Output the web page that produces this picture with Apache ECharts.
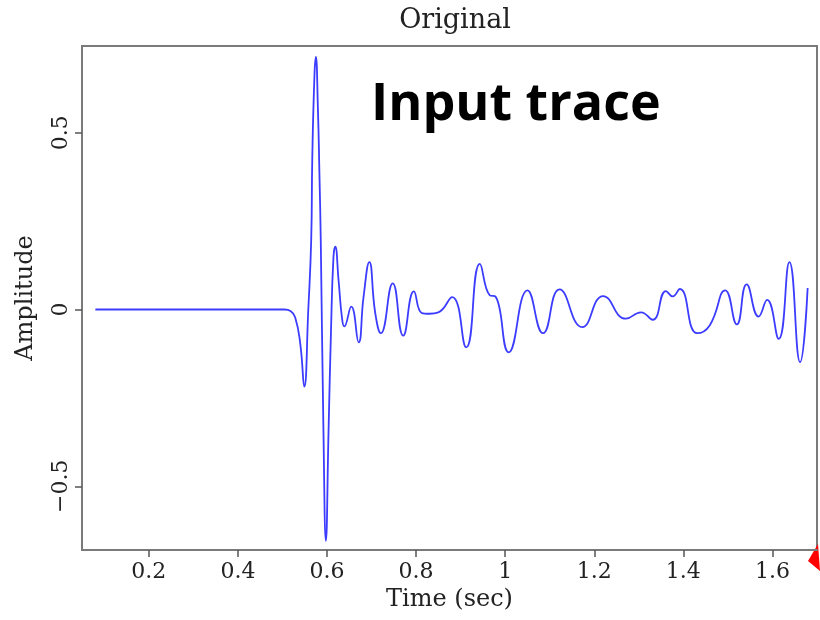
<!DOCTYPE html>
<html>
<head>
<meta charset="utf-8">
<script src="https://cdn.jsdelivr.net/npm/echarts@6/dist/echarts.min.js"></script>
<style>
  html, body { margin: 0; padding: 0; background: #fff; }
  #chart { width: 820px; height: 620px; }
</style>
</head>
<body>
<div id="chart"></div>
<script>
// Seismic trace: time samples (s) and amplitudes
const times = [
  0.08, 0.30, 0.505, 0.518, 0.5285, 0.540, 0.549, 0.558, 0.5645, 0.567,
  0.572, 0.575, 0.5795, 0.583, 0.586, 0.592, 0.5975, 0.6035, 0.609, 0.6145,
  0.6185, 0.626, 0.6335, 0.6387, 0.6545, 0.671, 0.682, 0.695, 0.7085, 0.721,
  0.7475, 0.771, 0.795, 0.813, 0.83, 0.85, 0.881, 0.9125, 0.943, 0.9656,
  0.978, 1.008, 1.050, 1.085, 1.122, 1.173, 1.220, 1.271, 1.305, 1.331,
  1.361, 1.376, 1.392, 1.431, 1.459, 1.494, 1.520, 1.542, 1.569, 1.588,
  1.614, 1.638, 1.662, 1.679
];
const amps = [
  0, 0, 0, -0.004, -0.022, -0.097, -0.218, 0.0, 0.195, 0.43,
  0.667, 0.714, 0.572, 0.384, 0.195, -0.342, -0.654, -0.342, -0.059, 0.148,
  0.178, 0.082, -0.022, -0.048, 0.008, -0.093, 0.035, 0.134, -0.012, -0.067,
  0.074, -0.074, 0.051, -0.010, -0.012, -0.008, 0.035, -0.107, 0.129, 0.040,
  0.037, -0.121, 0.054, -0.067, 0.057, -0.050, 0.038, -0.026, -0.008, -0.029,
  0.052, 0.037, 0.058, -0.067, -0.045, 0.054, -0.042, 0.071, -0.020, 0.027,
  -0.083, 0.134, -0.149, 0.061
];

// Axis tick values
const xTicks = [0.2, 0.4, 0.6, 0.8, 1.0, 1.2, 1.4, 1.6];
const yTicks = [-0.5, 0, 0.5];

const serif = '"DejaVu Serif", "Liberation Serif", serif';
const frameColor = '#7a7a7a';

const chart = echarts.init(document.getElementById('chart'), null, { renderer: 'canvas' });

chart.setOption({
  animation: false,
  backgroundColor: '#ffffff',
  title: {
    text: 'Original',
    left: 450,
    textAlign: 'center',
    top: 2,
    textStyle: { fontFamily: serif, fontSize: 27, fontWeight: 'normal', color: '#222' }
  },
  grid: {
    left: 82, right: 3, top: 46, bottom: 70,
    show: true,
    borderColor: frameColor,
    borderWidth: 2,
    backgroundColor: '#fff'
  },
  xAxis: {
    type: 'value',
    min: 0.05,
    max: 1.7,
    name: 'Time (sec)',
    nameLocation: 'middle',
    nameGap: 37,
    nameTextStyle: { fontFamily: serif, fontSize: 24, color: '#222' },
    axisLine: { show: true, onZero: false, lineStyle: { color: frameColor, width: 2 } },
    axisTick: {
      show: true, inside: false, length: 7,
      customValues: xTicks,
      lineStyle: { color: '#555', width: 1.5 }
    },
    axisLabel: {
      customValues: xTicks,
      margin: 11,
      fontFamily: serif, fontSize: 22, color: '#222',
      formatter: v => String(+v.toFixed(2))
    },
    splitLine: { show: false }
  },
  yAxis: {
    type: 'value',
    min: -0.68,
    max: 0.745,
    name: 'Amplitude',
    nameLocation: 'middle',
    nameRotate: 90,
    nameGap: 44,
    nameTextStyle: { fontFamily: serif, fontSize: 24, color: '#222' },
    axisLine: { show: true, onZero: false, lineStyle: { color: frameColor, width: 2 } },
    axisTick: {
      show: true, inside: false, length: 7,
      customValues: yTicks,
      lineStyle: { color: '#555', width: 1.5 }
    },
    axisLabel: {
      customValues: yTicks,
      rotate: 90,
      margin: 10,
      fontFamily: serif, fontSize: 22, color: '#222',
      formatter: v => String(+v.toFixed(2)).replace('-', '\u2212')
    },
    splitLine: { show: false }
  },
  series: [{
    type: 'line',
    data: times.map((t, i) => [t, amps[i]]),
    smooth: 0.5,
    showSymbol: false,
    symbol: 'none',
    clip: true,
    lineStyle: { color: '#3c3cff', width: 1.8 }
  }],
  graphic: [
    {
      type: 'text',
      left: 371,
      top: 79,
      style: {
        text: 'Input trace',
        fontFamily: '"Open Sans", "Noto Sans", sans-serif',
        fontWeight: 'bold',
        fontSize: 52,
        fill: '#000'
      }
    },
    {
      type: 'polygon',
      shape: { points: [[818, 544], [808, 561], [820, 571]] },
      style: { fill: '#ff0000' }
    }
  ]
});
</script>
</body>
</html>
